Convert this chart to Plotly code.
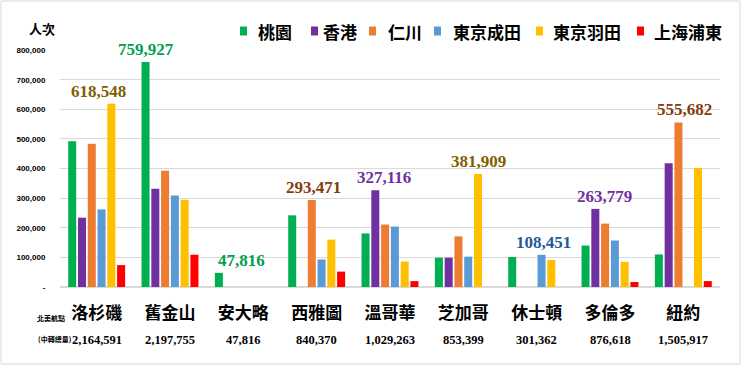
import plotly.graph_objects as go

cities = ["洛杉磯", "舊金山", "安大略", "西雅圖", "溫哥華", "芝加哥", "休士頓", "多倫多", "紐約"]
totals = ["2,164,591", "2,197,755", "47,816", "840,370", "1,029,263", "853,399", "301,362", "876,618", "1,505,917"]

series_names = ["桃園", "香港", "仁川", "東京成田", "東京羽田", "上海浦東"]
taoyuan = [492000, 759927, 47816, 242000, 181000, 99000, 101500, 140000, 110000]
hongkong = [234000, 332000, None, None, 327116, 99000, None, 263779, 418000]
incheon = [484000, 393000, None, 293471, 211000, 171000, None, 214000, 555682]
narita = [262000, 309000, None, 93000, 204000, 102500, 108451, 157000, None]
haneda = [618548, 295000, None, 160000, 86000, 381909, 91400, 85000, 402000]
pudong = [74000, 109000, None, 52000, 20000, None, None, 17000, 20000]
series_values = [taoyuan, hongkong, incheon, narita, haneda, pudong]
colors = ["#00B050", "#7030A0", "#ED7D31", "#5B9BD5", "#FFC000", "#FF0000"]

# highlighted value labels: (city index, series index, label colour, x shift)
highlights = [(0, 4, "#7F6000", -13), (1, 0, "#00A050", 0), (2, 0, "#00A050", 23),
              (3, 2, "#843C0C", 2), (4, 1, "#7030A0", 9), (5, 4, "#7F6000", 1),
              (6, 3, "#1F5C99", 2), (7, 1, "#7030A0", 9), (8, 2, "#843C0C", 6)]

ytick_vals = [0, 100000, 200000, 300000, 400000, 500000, 600000, 700000, 800000]
ytick_text = ["-", "100,000", "200,000", "300,000", "400,000", "500,000", "600,000", "700,000", "800,000"]

L, R, T, B = 60, 21, 50, 79
W, H = 741, 366
PW, PH = W - L - R, H - T - B


def px(xp):
    return (xp - L) / PW


def py(yp):
    return (H - B - yp) / PH


fig = go.Figure()
for name, vals, col in zip(series_names, series_values, colors):
    fig.add_trace(go.Bar(name=name, x=cities, y=vals, marker=dict(color=col, line=dict(width=0)),
                         showlegend=False))

slot = PW / len(cities) * 0.8 / 6
for ci, si, col, xs in highlights:
    v = series_values[si][ci]
    off = (si - 2.5) * slot
    fig.add_annotation(x=cities[ci], y=v, xref="x", yref="y", text=f"{v:,}",
                       showarrow=False, yanchor="bottom", yshift=1, xshift=off + xs,
                       font=dict(family="Liberation Serif", size=17, color=col, weight="bold"))

for c, t in zip(cities, totals):
    fig.add_annotation(x=c, y=py(340), xref="x", yref="paper", text=t, showarrow=False,
                       yanchor="middle", borderpad=0,
                       font=dict(family="Liberation Serif", size=12.5, color="black", weight="bold"))

fig.add_annotation(x=px(36), y=py(318), xref="paper", yref="paper", text="北美航點", showarrow=False,
                   yanchor="middle", borderpad=0,
                   font=dict(family="Noto Sans CJK TC", size=7, color="black", weight="bold"))
fig.add_annotation(x=px(37), y=py(339), xref="paper", yref="paper", text="(中轉總量)", showarrow=False,
                   yanchor="middle", borderpad=0,
                   font=dict(family="Noto Sans CJK TC", size=7, color="black", weight="bold"))
fig.add_annotation(x=px(27), y=py(28), xref="paper", yref="paper", text="人次", showarrow=False,
                   yanchor="middle", font=dict(family="Noto Sans CJK TC", size=13, color="black", weight="bold"))

# legend (manual, to match the tight Excel-style spacing)
legend_sq = [243.5, 314.5, 372.5, 437.5, 539.5, 640.5]
legend_tx = [256, 321, 386, 451, 551, 652]
for name, col, sx, tx in zip(series_names, colors, legend_sq, legend_tx):
    fig.add_shape(type="rect", xref="paper", yref="paper", xsizemode="pixel", ysizemode="pixel",
                  xanchor=px(sx), yanchor=py(31), x0=-3.5, x1=3.5, y0=-4.5, y1=4.5,
                  fillcolor=col, line=dict(width=0))
    fig.add_annotation(x=px(tx), y=py(31), xref="paper", yref="paper", text=name, showarrow=False,
                       xanchor="left", yanchor="middle",
                       font=dict(family="Noto Sans CJK TC", size=17, color="black", weight="bold"))

fig.add_shape(type="rect", xref="paper", yref="paper", x0=px(1), x1=px(740), y0=py(364), y1=py(1),
              line=dict(color="#D9D9D9", width=1))

fig.update_layout(
    width=W, height=H,
    margin=dict(l=L, r=R, t=T, b=B, autoexpand=False),
    paper_bgcolor="white", plot_bgcolor="white",
    barmode="group", bargap=0.2, bargroupgap=0.18,
    showlegend=False,
    font=dict(family="Noto Sans CJK TC"),
)
fig.update_xaxes(showgrid=False, showline=False, ticks="", zeroline=False, automargin=False,
                 ticklabelstandoff=14,
                 tickfont=dict(family="Noto Sans CJK TC", size=17, color="black", weight="bold"))
fig.update_yaxes(range=[0, 800400], tickmode="array", tickvals=ytick_vals, ticktext=ytick_text,
                 automargin=False, ticks="outside", ticklen=12, tickcolor="rgba(0,0,0,0)",
                 showgrid=True, gridcolor="#D9D9D9", gridwidth=1, zeroline=True,
                 zerolinecolor="#D9D9D9", ticklabeloverflow="allow",
                 tickfont=dict(family="Liberation Sans", size=8, color="black", weight="bold"))

fig.write_html("out.html", post_script="document.body.style.margin='0px';",
               config={"displayModeBar": False})
